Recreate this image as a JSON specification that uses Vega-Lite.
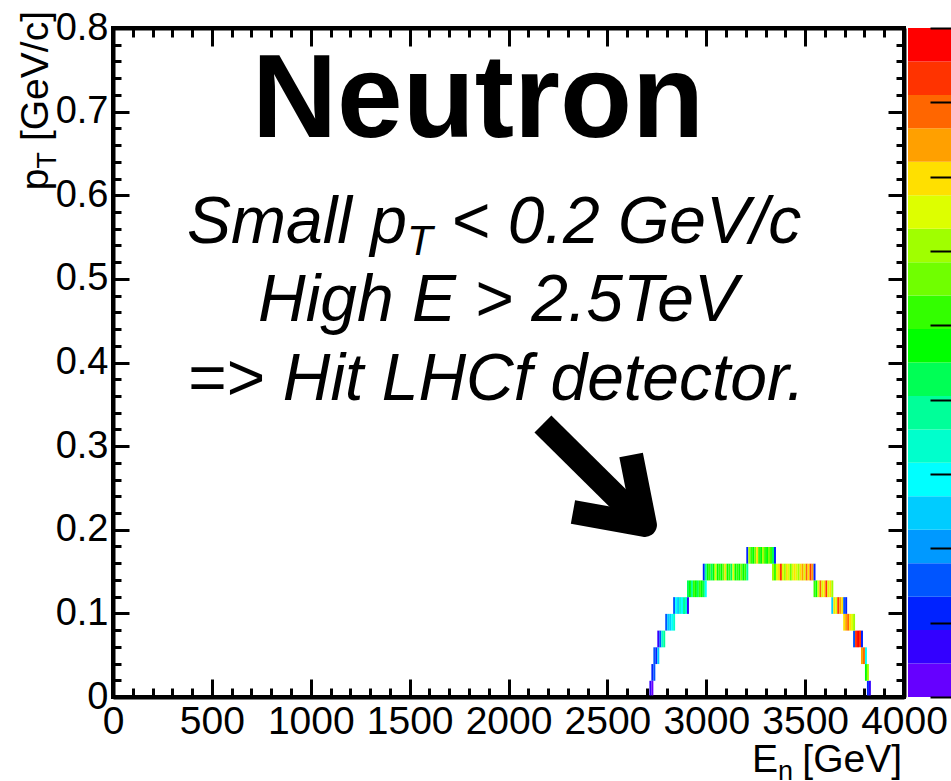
{
  "$schema": "https://vega.github.io/schema/vega-lite/v6.json",
  "width": 791,
  "height": 669,
  "autosize": {"type": "none"},
  "padding": {"left": 113, "top": 28, "right": 47, "bottom": 84},
  "background": "white",
  "config": {"view": {"stroke": "black", "strokeWidth": 4}, "font": "Liberation Sans"},
  "layer": [
    {
      "layer": [
        {
          "data": {"values": [
            {"E":2710,"pt":0,"n":2},{"E":2720,"pt":0,"n":1},{"E":3810,"pt":0,"n":3},{"E":3820,"pt":0,"n":2},
            {"E":2720,"pt":0.02,"n":3},{"E":2730,"pt":0.02,"n":4},{"E":3800,"pt":0.02,"n":11},{"E":3810,"pt":0.02,"n":14},
            {"E":2730,"pt":0.04,"n":4},{"E":2740,"pt":0.04,"n":3},{"E":2750,"pt":0.04,"n":6},{"E":3780,"pt":0.04,"n":17},{"E":3790,"pt":0.04,"n":18},{"E":3800,"pt":0.04,"n":7},
            {"E":2750,"pt":0.06,"n":2},{"E":2760,"pt":0.06,"n":4},{"E":2770,"pt":0.06,"n":8},{"E":2780,"pt":0.06,"n":9},{"E":3740,"pt":0.06,"n":4},{"E":3750,"pt":0.06,"n":19},{"E":3760,"pt":0.06,"n":20},{"E":3770,"pt":0.06,"n":19},{"E":3780,"pt":0.06,"n":3},
            {"E":2790,"pt":0.08,"n":4},{"E":2800,"pt":0.08,"n":6},{"E":2810,"pt":0.08,"n":6},{"E":2820,"pt":0.08,"n":7},{"E":2830,"pt":0.08,"n":8},{"E":3690,"pt":0.08,"n":16},{"E":3700,"pt":0.08,"n":17},{"E":3710,"pt":0.08,"n":18},{"E":3720,"pt":0.08,"n":16},{"E":3730,"pt":0.08,"n":15},{"E":3740,"pt":0.08,"n":14},
            {"E":2830,"pt":0.1,"n":4},{"E":2840,"pt":0.1,"n":7},{"E":2850,"pt":0.1,"n":6},{"E":2860,"pt":0.1,"n":8},{"E":2870,"pt":0.1,"n":7},{"E":2880,"pt":0.1,"n":9},{"E":2890,"pt":0.1,"n":8},{"E":2900,"pt":0.1,"n":2},
            {"E":3630,"pt":0.1,"n":6},{"E":3640,"pt":0.1,"n":16},{"E":3650,"pt":0.1,"n":15},{"E":3660,"pt":0.1,"n":19},{"E":3670,"pt":0.1,"n":17},{"E":3680,"pt":0.1,"n":16},{"E":3690,"pt":0.1,"n":4},{"E":3700,"pt":0.1,"n":3},
            {"E":2900,"pt":0.12,"n":10},{"E":2910,"pt":0.12,"n":11},{"E":2920,"pt":0.12,"n":9},{"E":2930,"pt":0.12,"n":12},{"E":2940,"pt":0.12,"n":11},{"E":2950,"pt":0.12,"n":10},{"E":2960,"pt":0.12,"n":12},{"E":2970,"pt":0.12,"n":11},{"E":2980,"pt":0.12,"n":10},{"E":2990,"pt":0.12,"n":7},
            {"E":3540,"pt":0.12,"n":12},{"E":3550,"pt":0.12,"n":11},{"E":3560,"pt":0.12,"n":15},{"E":3570,"pt":0.12,"n":18},{"E":3580,"pt":0.12,"n":15},{"E":3590,"pt":0.12,"n":16},{"E":3600,"pt":0.12,"n":19},{"E":3610,"pt":0.12,"n":15},{"E":3620,"pt":0.12,"n":16},{"E":3630,"pt":0.12,"n":14},
            {"E":2980,"pt":0.14,"n":3},{"E":2990,"pt":0.14,"n":9},{"E":3000,"pt":0.14,"n":11},{"E":3010,"pt":0.14,"n":12},{"E":3020,"pt":0.14,"n":10},{"E":3030,"pt":0.14,"n":11},{"E":3040,"pt":0.14,"n":15},{"E":3050,"pt":0.14,"n":11},{"E":3060,"pt":0.14,"n":12},{"E":3070,"pt":0.14,"n":11},{"E":3080,"pt":0.14,"n":13},{"E":3090,"pt":0.14,"n":16},{"E":3100,"pt":0.14,"n":11},{"E":3110,"pt":0.14,"n":12},{"E":3120,"pt":0.14,"n":10},{"E":3130,"pt":0.14,"n":15},{"E":3140,"pt":0.14,"n":11},{"E":3150,"pt":0.14,"n":12},{"E":3160,"pt":0.14,"n":11},{"E":3170,"pt":0.14,"n":13},{"E":3180,"pt":0.14,"n":11},{"E":3190,"pt":0.14,"n":12},{"E":3200,"pt":0.14,"n":9},
            {"E":3330,"pt":0.14,"n":14},{"E":3340,"pt":0.14,"n":12},{"E":3350,"pt":0.14,"n":15},{"E":3360,"pt":0.14,"n":16},{"E":3370,"pt":0.14,"n":19},{"E":3380,"pt":0.14,"n":15},{"E":3390,"pt":0.14,"n":14},{"E":3400,"pt":0.14,"n":16},{"E":3410,"pt":0.14,"n":15},{"E":3420,"pt":0.14,"n":13},{"E":3430,"pt":0.14,"n":15},{"E":3440,"pt":0.14,"n":16},{"E":3450,"pt":0.14,"n":15},{"E":3460,"pt":0.14,"n":14},{"E":3470,"pt":0.14,"n":16},{"E":3480,"pt":0.14,"n":17},{"E":3490,"pt":0.14,"n":15},{"E":3500,"pt":0.14,"n":18},{"E":3510,"pt":0.14,"n":16},{"E":3520,"pt":0.14,"n":19},{"E":3530,"pt":0.14,"n":17},{"E":3540,"pt":0.14,"n":3},
            {"E":3200,"pt":0.16,"n":3},{"E":3210,"pt":0.16,"n":14},{"E":3220,"pt":0.16,"n":12},{"E":3230,"pt":0.16,"n":11},{"E":3240,"pt":0.16,"n":13},{"E":3250,"pt":0.16,"n":16},{"E":3260,"pt":0.16,"n":12},{"E":3270,"pt":0.16,"n":11},{"E":3280,"pt":0.16,"n":14},{"E":3290,"pt":0.16,"n":12},{"E":3300,"pt":0.16,"n":11},{"E":3310,"pt":0.16,"n":13},{"E":3320,"pt":0.16,"n":12},{"E":3330,"pt":0.16,"n":10},{"E":3340,"pt":0.16,"n":3}
          ]},
          "mark": {"type": "rect"},
          "encoding": {
            "x": {"field": "E", "type": "quantitative", "bin": {"binned": true, "step": 10},
              "scale": {"domain": [0, 4000], "nice": false, "zero": false},
              "axis": {"orient": "bottom", "values": [0,100,200,300,400,500,600,700,800,900,1000,1100,1200,1300,1400,1500,1600,1700,1800,1900,2000,2100,2200,2300,2400,2500,2600,2700,2800,2900,3000,3100,3200,3300,3400,3500,3600,3700,3800,3900,4000],
                "format": "d", "labelExpr": "datum.value % 500 === 0 ? datum.label : ''",
                "tickSize": {"condition": {"test": "datum.value % 500 === 0", "value": -18}, "value": -9},
                "tickWidth": 3, "tickColor": "black", "domain": true, "domainColor": "black", "domainWidth": 4, "grid": false, "title": null,
                "labelFont": "Liberation Sans", "labelFontSize": 39, "labelColor": "black", "labelPadding": 23, "labelOverlap": false, "labelFlush": false, "zindex": 1}},
            "y": {"field": "pt", "type": "quantitative", "bin": {"binned": true, "step": 0.02},
              "scale": {"domain": [0, 0.8], "nice": false, "zero": false},
              "axis": {"orient": "left", "values": [0,0.02,0.04,0.06,0.08,0.1,0.12,0.14,0.16,0.18,0.2,0.22,0.24,0.26,0.28,0.3,0.32,0.34,0.36,0.38,0.4,0.42,0.44,0.46,0.48,0.5,0.52,0.54,0.56,0.58,0.6,0.62,0.64,0.66,0.68,0.7,0.72,0.74,0.76,0.78,0.8],
                "labelExpr": "round(datum.value*100) % 10 === 0 ? format(datum.value, '~g') : ''",
                "tickSize": {"condition": {"test": "round(datum.value*100) % 10 === 0", "value": -16}, "value": -8},
                "tickWidth": 3, "tickColor": "black", "domain": true, "domainColor": "black", "domainWidth": 4, "grid": false, "title": null,
                "labelFont": "Liberation Sans", "labelFontSize": 38, "labelColor": "black", "labelPadding": 21, "labelOverlap": false, "labelFlush": false, "zindex": 1}},
            "color": {"field": "n", "type": "quantitative",
              "scale": {"type": "quantize", "domain": [0.5, 20.5], "range": ["#6600ff","#3300ff","#0022ff","#0055ff","#0099ff","#00ccff","#00ffff","#00ffcc","#00ff99","#00ff55","#00ff00","#33ff00","#70ff00","#a0ff00","#ddff00","#ffe000","#ffa000","#ff6600","#ff3300","#ff0000"]},
              "legend": {"type": "gradient", "orient": "none", "legendX": 795, "legendY": 0, "direction": "vertical", "gradientLength": 669, "gradientThickness": 60, "title": null, "labelOpacity": 0, "padding": 0, "gradientStrokeWidth": 0}}
          }
        },
        {
          "data": {"values": [
            {"seg": "shaft", "ord": 1, "E": 2174, "pt": 0.3265},
            {"seg": "shaft", "ord": 2, "E": 2690, "pt": 0.2057},
            {"seg": "head", "ord": 1, "E": 2326, "pt": 0.2212},
            {"seg": "head", "ord": 2, "E": 2690, "pt": 0.2057},
            {"seg": "head", "ord": 3, "E": 2620, "pt": 0.2894}
          ]},
          "mark": {"type": "line", "strokeWidth": 24, "color": "black", "strokeCap": "butt", "strokeJoin": "round"},
          "encoding": {
            "x": {"field": "E", "type": "quantitative", "scale": {"domain": [0, 4000], "nice": false, "zero": false},
              "axis": {"orient": "top", "values": [0,100,200,300,400,500,600,700,800,900,1000,1100,1200,1300,1400,1500,1600,1700,1800,1900,2000,2100,2200,2300,2400,2500,2600,2700,2800,2900,3000,3100,3200,3300,3400,3500,3600,3700,3800,3900,4000],
                "labels": false, "tickSize": {"condition": {"test": "datum.value % 500 === 0", "value": -18}, "value": -9},
                "tickWidth": 3, "tickColor": "black", "domain": true, "domainColor": "black", "domainWidth": 4, "grid": false, "title": null, "zindex": 1}},
            "y": {"field": "pt", "type": "quantitative", "scale": {"domain": [0, 0.8], "nice": false, "zero": false},
              "axis": {"orient": "right", "values": [0,0.02,0.04,0.06,0.08,0.1,0.12,0.14,0.16,0.18,0.2,0.22,0.24,0.26,0.28,0.3,0.32,0.34,0.36,0.38,0.4,0.42,0.44,0.46,0.48,0.5,0.52,0.54,0.56,0.58,0.6,0.62,0.64,0.66,0.68,0.7,0.72,0.74,0.76,0.78,0.8],
                "labels": false, "tickSize": {"condition": {"test": "round(datum.value*100) % 10 === 0", "value": -16}, "value": -8},
                "tickWidth": 3, "tickColor": "black", "domain": true, "domainColor": "black", "domainWidth": 4, "grid": false, "title": null, "zindex": 1}},
            "detail": {"field": "seg"},
            "order": {"field": "ord"}
          }
        },
        {
          "data": {"values": [{"t": "Neutron", "E": 1846, "pt": 0.6695}]},
          "mark": {"type": "text", "font": "Liberation Sans", "fontWeight": "bold", "fontSize": 118, "align": "center", "baseline": "alphabetic", "color": "black"},
          "encoding": {
            "x": {"field": "E", "type": "quantitative", "scale": {"domain": [0, 4000], "nice": false, "zero": false}, "axis": null},
            "y": {"field": "pt", "type": "quantitative", "scale": {"domain": [0, 0.8], "nice": false, "zero": false}, "axis": null},
            "text": {"field": "t"}
          }
        },
        {
          "data": {"values": [
            {"t": "High E > 2.5TeV", "E": 1947, "pt": 0.4496},
            {"t": "=> Hit LHCf detector.", "E": 1937, "pt": 0.3552}
          ]},
          "mark": {"type": "text", "font": "Liberation Sans", "fontStyle": "italic", "fontSize": 66, "align": "center", "baseline": "alphabetic", "color": "black"},
          "encoding": {
            "x": {"field": "E", "type": "quantitative", "scale": {"domain": [0, 4000], "nice": false, "zero": false}, "axis": null},
            "y": {"field": "pt", "type": "quantitative", "scale": {"domain": [0, 0.8], "nice": false, "zero": false}, "axis": null},
            "text": {"field": "t"}
          }
        },
        {
          "data": {"values": [
            {"t": "Small p", "E": 374, "pt": 0.5429},
            {"t": "< 0.2 GeV/c", "E": 1709, "pt": 0.5429}
          ]},
          "mark": {"type": "text", "font": "Liberation Sans", "fontStyle": "italic", "fontSize": 66, "align": "left", "baseline": "alphabetic", "color": "black"},
          "encoding": {
            "x": {"field": "E", "type": "quantitative", "scale": {"domain": [0, 4000], "nice": false, "zero": false}, "axis": null},
            "y": {"field": "pt", "type": "quantitative", "scale": {"domain": [0, 0.8], "nice": false, "zero": false}, "axis": null},
            "text": {"field": "t"}
          }
        },
        {
          "data": {"values": [{"t": "T", "E": 1487, "pt": 0.5286}]},
          "mark": {"type": "text", "font": "Liberation Sans", "fontStyle": "italic", "fontSize": 42, "align": "left", "baseline": "alphabetic", "color": "black"},
          "encoding": {
            "x": {"field": "E", "type": "quantitative", "scale": {"domain": [0, 4000], "nice": false, "zero": false}, "axis": null},
            "y": {"field": "pt", "type": "quantitative", "scale": {"domain": [0, 0.8], "nice": false, "zero": false}, "axis": null},
            "text": {"field": "t"}
          }
        },
        {
          "data": {"values": [{"t": "E", "E": 3231, "pt": -0.0897}]},
          "mark": {"type": "text", "font": "Liberation Sans", "fontSize": 39, "align": "left", "baseline": "alphabetic", "color": "black"},
          "encoding": {
            "x": {"field": "E", "type": "quantitative", "scale": {"domain": [0, 4000], "nice": false, "zero": false}, "axis": null},
            "y": {"field": "pt", "type": "quantitative", "scale": {"domain": [0, 0.8], "nice": false, "zero": false}, "axis": null},
            "text": {"field": "t"}
          }
        },
        {
          "data": {"values": [{"t": "[GeV]", "E": 3990, "pt": -0.0897}]},
          "mark": {"type": "text", "font": "Liberation Sans", "fontSize": 39, "align": "right", "baseline": "alphabetic", "color": "black"},
          "encoding": {
            "x": {"field": "E", "type": "quantitative", "scale": {"domain": [0, 4000], "nice": false, "zero": false}, "axis": null},
            "y": {"field": "pt", "type": "quantitative", "scale": {"domain": [0, 0.8], "nice": false, "zero": false}, "axis": null},
            "text": {"field": "t"}
          }
        },
        {
          "data": {"values": [{"t": "n", "E": 3363, "pt": -0.0993}]},
          "mark": {"type": "text", "font": "Liberation Sans", "fontSize": 27, "align": "left", "baseline": "alphabetic", "color": "black"},
          "encoding": {
            "x": {"field": "E", "type": "quantitative", "scale": {"domain": [0, 4000], "nice": false, "zero": false}, "axis": null},
            "y": {"field": "pt", "type": "quantitative", "scale": {"domain": [0, 0.8], "nice": false, "zero": false}, "axis": null},
            "text": {"field": "t"}
          }
        },
        {
          "data": {"values": [
            {"t": "[GeV/c]", "E": -329, "pt": 0.8203},
            {"t": "p", "E": -329, "pt": 0.632}
          ]},
          "mark": {"type": "text", "font": "Liberation Sans", "fontSize": 39, "angle": 270, "align": "right", "baseline": "alphabetic", "color": "black"},
          "encoding": {
            "x": {"field": "E", "type": "quantitative", "scale": {"domain": [0, 4000], "nice": false, "zero": false}, "axis": null},
            "y": {"field": "pt", "type": "quantitative", "scale": {"domain": [0, 0.8], "nice": false, "zero": false}, "axis": null},
            "text": {"field": "t"}
          }
        },
        {
          "data": {"values": [{"t": "T", "E": -288, "pt": 0.6517}]},
          "mark": {"type": "text", "font": "Liberation Sans", "fontSize": 27, "angle": 270, "align": "right", "baseline": "alphabetic", "color": "black"},
          "encoding": {
            "x": {"field": "E", "type": "quantitative", "scale": {"domain": [0, 4000], "nice": false, "zero": false}, "axis": null},
            "y": {"field": "pt", "type": "quantitative", "scale": {"domain": [0, 0.8], "nice": false, "zero": false}, "axis": null},
            "text": {"field": "t"}
          }
        }
      ],
      "resolve": {"axis": {"x": "independent", "y": "independent"}}
    },
    {
      "data": {"values": [{"z": 0}, {"z": 1}, {"z": 2}, {"z": 3}, {"z": 4}, {"z": 5}, {"z": 6}, {"z": 7}, {"z": 8}, {"z": 9}]},
      "mark": {"type": "point", "opacity": 0},
      "encoding": {
        "y": {"field": "z", "type": "quantitative", "scale": {"domain": [0, 9], "nice": false, "zero": false},
          "axis": {"orient": "right", "offset": 47, "values": [0, 1, 2, 3, 4, 5, 6, 7, 8, 9], "labels": false, "domain": false, "grid": false, "title": null,
            "tickSize": -21, "tickWidth": 2, "tickColor": "black", "zindex": 2}}
      }
    }
  ],
  "resolve": {"scale": {"y": "independent"}, "axis": {"x": "independent", "y": "independent"}}
}
